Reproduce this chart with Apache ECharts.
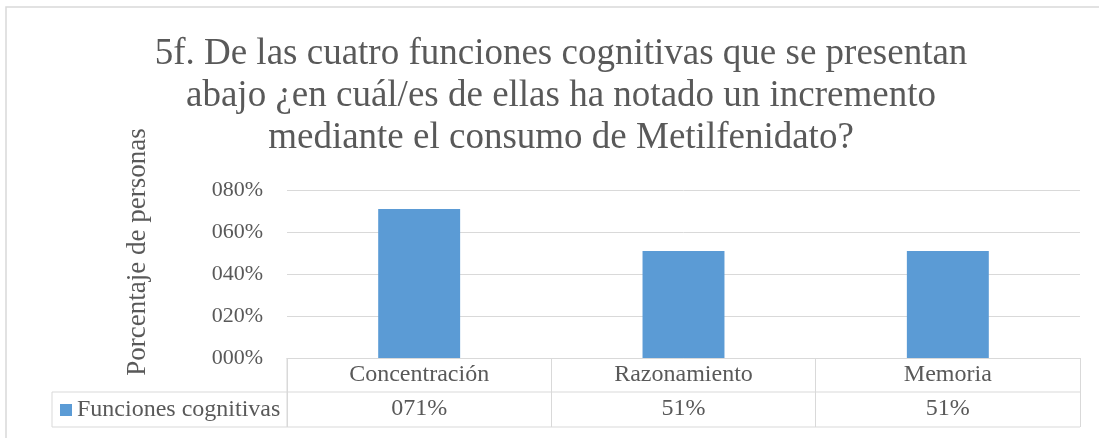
<!DOCTYPE html>
<html>
<head>
<meta charset="utf-8">
<script src="https://cdn.jsdelivr.net/npm/echarts@6/dist/echarts.min.js"></script>
<style>
  html, body { margin: 0; padding: 0; background: #fff; }
  #main { width: 1099px; height: 438px; }
</style>
</head>
<body>
<div id="main"></div>
<script>
// data
var categories = ['Concentración', 'Razonamiento', 'Memoria'];
var values = [0.71, 0.51, 0.51];
var valueLabels = ['071%', '51%', '51%'];
var yTickLabels = ['000%', '020%', '040%', '060%', '080%'];
var seriesName = 'Funciones cognitivas';

var dom = document.getElementById('main');
var myChart = echarts.init(dom);
var font = 'Liberation Serif';
var grey = '#595959';
var lineCol = '#d9d9d9';

var option = {
    animation: false,
    textStyle: { fontFamily: font },
    title: {
        text: '5f. De las cuatro funciones cognitivas que se presentan\nabajo ¿en cuál/es de ellas ha notado un incremento\nmediante el consumo de Metilfenidato?',
        left: 556,
        top: 28,
        textAlign: 'center',
        textStyle: {
            fontFamily: font,
            fontSize: 37,
            fontWeight: 'normal',
            lineHeight: 42,
            color: grey
        }
    },
    legend: {
        left: 60,
        top: 398,
        padding: 0,
        itemWidth: 12,
        itemHeight: 12,
        icon: 'rect',
        data: [seriesName],
        textStyle: { fontFamily: font, fontSize: 24, color: grey }
    },
    grid: { left: 287, right: 19, top: 190, height: 168 },
    xAxis: [{
        type: 'category',
        data: categories,
        position: 'bottom',
        axisLine: { show: true, lineStyle: { color: lineCol } },
        axisTick: { show: true, length: 69, lineStyle: { color: lineCol } },
        axisLabel: {
            margin: 0,
            lineHeight: 34,
            fontFamily: font,
            fontSize: 24,
            color: grey
        }
    }, {
        type: 'category',
        data: categories,
        position: 'bottom',
        offset: 34,
        axisLine: { show: false },
        axisTick: { show: false },
        axisLabel: {
            margin: 0,
            lineHeight: 34,
            fontFamily: font,
            fontSize: 24,
            color: grey,
            formatter: function (v, i) { return valueLabels[i]; }
        }
    }],
    yAxis: {
        type: 'value',
        min: 0,
        max: 0.8,
        interval: 0.2,
        name: 'Porcentaje de personas',
        nameLocation: 'middle',
        nameGap: 136,
        nameTextStyle: {
            fontFamily: font,
            fontSize: 27,
            color: grey,
            padding: [0, 0, 0, 44]
        },
        axisLine: { show: false },
        axisTick: { show: false },
        splitLine: { lineStyle: { color: lineCol, width: 1 } },
        axisLabel: {
            margin: 24,
            fontFamily: font,
            fontSize: 22,
            color: grey,
            formatter: function (v) { return yTickLabels[Math.round(v / 0.2)]; }
        }
    },
    series: [{
        name: seriesName,
        type: 'bar',
        data: values,
        barWidth: '31%',
        itemStyle: { color: '#5b9bd5' }
    }],
    graphic: [
        { type: 'rect', shape: { x: 6, y: 7, width: 1200, height: 600 }, style: { fill: null, stroke: lineCol, lineWidth: 1.5 }, silent: true },
        { type: 'line', shape: { x1: 52, y1: 392, x2: 1080, y2: 392 }, style: { stroke: lineCol, lineWidth: 1 } },
        { type: 'line', shape: { x1: 52, y1: 427, x2: 1080, y2: 427 }, style: { stroke: lineCol, lineWidth: 1 } },
        { type: 'line', shape: { x1: 52, y1: 392, x2: 52, y2: 427 }, style: { stroke: lineCol, lineWidth: 1 } },
        { type: 'line', shape: { x1: 287, y1: 358, x2: 287, y2: 427 }, style: { stroke: lineCol, lineWidth: 1 } }
    ]
};
myChart.setOption(option, true);
</script>
</body>
</html>
